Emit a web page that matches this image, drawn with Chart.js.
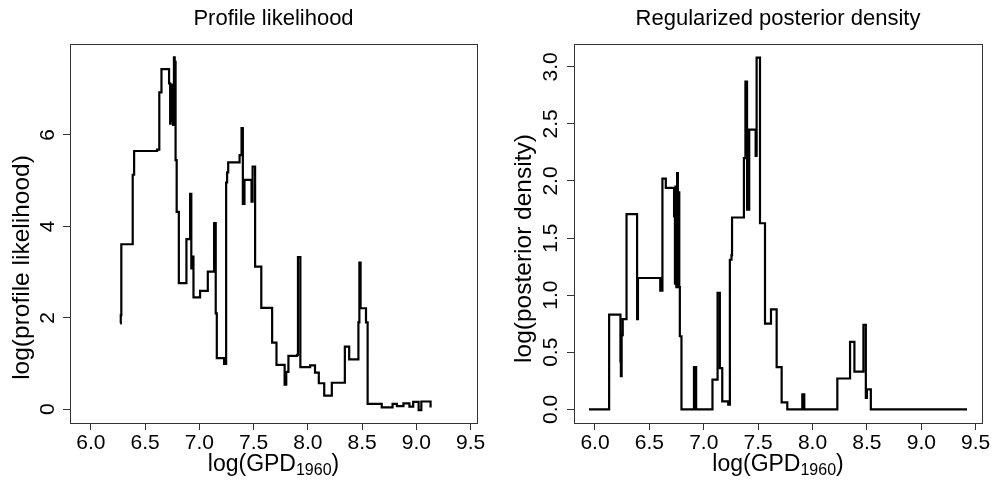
<!DOCTYPE html>
<html>
<head>
<meta charset="utf-8">
<script src="https://cdn.jsdelivr.net/npm/chart.js@4.4.1/dist/chart.umd.min.js"></script>
<style>
  html, body { margin: 0; padding: 0; background: #fff; }
  #wrap { position: relative; width: 993px; height: 482px; }
  canvas { position: absolute; top: 0; }
</style>
</head>
<body>
<div id="wrap">
  <canvas id="profile" width="496" height="482" style="left:0"></canvas>
  <canvas id="posterior" width="497" height="482" style="left:496px"></canvas>
</div>
<script>
// tick labels
const xTicks = [6.0, 6.5, 7.0, 7.5, 8.0, 8.5, 9.0, 9.5];
const profileTicks = [0, 2, 4, 6];
const posteriorTicks = [0, 0.5, 1.0, 1.5, 2.0, 2.5, 3.0];

// profile likelihood, step changes (log GPD, value)
const profileX = [6.27, 6.275, 6.28, 6.385, 6.398, 6.61, 6.63, 6.65, 6.72, 6.73, 6.735, 6.745, 6.75, 6.757, 6.765, 6.772, 6.776, 6.78, 6.79, 6.81,
  6.88, 6.914, 6.925, 6.935, 6.945, 7.006, 7.077, 7.135, 7.15, 7.16, 7.227, 7.246, 7.255, 7.265, 7.37, 7.388, 7.40, 7.415, 7.48, 7.49,
  7.513, 7.57, 7.67, 7.71, 7.785, 7.80, 7.82, 7.90, 7.908, 7.93, 8.02, 8.065, 8.10, 8.15, 8.22, 8.34, 8.38, 8.465, 8.474, 8.485,
  8.535, 8.55, 8.68, 8.78, 8.82, 8.88, 8.935, 8.97, 9.02, 9.045, 9.13];
const profileY = [1.88, 2.06, 3.61, 5.13, 5.65, 5.68, 6.93, 7.44, 7.13, 6.25, 7.10, 6.30, 7.05, 6.22, 7.70, 6.30, 7.60, 5.45, 4.32, 2.76,
  3.72, 4.71, 3.08, 3.34, 2.45, 2.59, 3.01, 4.07, 2.10, 1.12, 0.99, 4.96, 5.18, 5.40, 5.56, 6.15, 4.49, 5.02, 4.54, 5.31,
  3.12, 2.22, 1.46, 0.97, 0.54, 0.82, 1.17, 1.19, 3.33, 0.92, 0.96, 0.80, 0.57, 0.30, 0.58, 1.37, 1.09, 1.90, 3.21, 2.21,
  1.90, 0.12, 0.04, 0.12, 0.07, 0.13, 0.06, 0.16, -0.02, 0.17, 0.04];

// regularized posterior density
const posteriorX = [5.945, 6.13, 6.234, 6.238, 6.245, 6.255, 6.29, 6.387, 6.395, 6.60, 6.62, 6.651, 6.727, 6.735, 6.74, 6.748, 6.755, 6.762,
  6.768, 6.775, 6.78, 6.795, 6.91, 6.93, 7.08, 7.127, 7.148, 7.17, 7.225, 7.24, 7.255, 7.26, 7.369, 7.383, 7.398, 7.418, 7.477, 7.486,
  7.517, 7.563, 7.618, 7.67, 7.716, 7.768, 7.906, 7.924, 8.228, 8.345, 8.385, 8.468, 8.49, 8.50, 8.536, 9.42];
const posteriorY = [0, 0.83, 0.42, 0.29, 0.65, 0.79, 1.71, 0.79, 1.15, 1.04, 2.02, 1.94, 1.69, 1.10, 1.95, 1.07, 2.07, 1.08,
  1.90, 1.07, 0.64, 0, 0.37, 0, 0.26, 1.02, 0.36, 0.07, 0.04, 1.31, 1.35, 1.68, 2.20, 2.87, 1.75, 2.45, 2.22, 3.08,
  1.63, 0.75, 0.876, 0.37, 0.06, 0, 0.13, 0, 0.27, 0.59, 0.33, 0.74, 0.10, 0.175, 0, 0];

const FONT = "'Liberation Sans', Arial, sans-serif";
Chart.defaults.font.family = FONT;
Chart.defaults.font.size = 21;
Chart.defaults.color = "#000";

// box, main title and axis titles drawn the way R does them
const rLabels = {
  id: "rLabels",
  afterDraw(chart, args, opts) {
    const ctx = chart.ctx;
    const a = chart.chartArea;
    const cx = (a.left + a.right) / 2;
    ctx.save();
    ctx.strokeStyle = "#333";
    ctx.lineWidth = 1;
    ctx.strokeRect(Math.round(a.left) + 0.5, Math.round(a.top) + 0.5, Math.round(a.right - a.left), Math.round(a.bottom - a.top));

    ctx.fillStyle = "#000";
    ctx.textBaseline = "alphabetic";
    ctx.textAlign = "center";
    ctx.font = "22px " + FONT;
    ctx.fillText(opts.title, cx, 25);

    // log(GPD_1960)
    const main = "log(GPD", sub = "1960", close = ")";
    ctx.font = "23px " + FONT;
    const w1 = ctx.measureText(main).width;
    const w3 = ctx.measureText(close).width;
    ctx.font = "16px " + FONT;
    const w2 = ctx.measureText(sub).width;
    let x = cx - (w1 + w2 + w3) / 2;
    ctx.textAlign = "left";
    ctx.font = "23px " + FONT;
    ctx.fillText(main, x, 471);
    ctx.font = "16px " + FONT;
    ctx.fillText(sub, x + w1, 475);
    ctx.font = "23px " + FONT;
    ctx.fillText(close, x + w1 + w2, 471);

    ctx.translate(opts.yLabelX, opts.yLabelY);
    ctx.rotate(-Math.PI / 2);
    ctx.textAlign = "center";
    ctx.font = "24.5px " + FONT;
    ctx.fillText(opts.yLabel, 0, 0);
    ctx.restore();
  }
};

function makeChart(id, xs, ys, yTicks, yMin, yMax, yFmt, yWidth, yPad, rightPad, labels) {
  const ctx = document.getElementById(id).getContext("2d");
  return new Chart(ctx, {
    type: "line",
    data: {
      datasets: [{
        data: xs.map((x, i) => ({ x: x, y: ys[i] })),
        stepped: "before",
        borderColor: "#000",
        borderWidth: 2.2,
        pointRadius: 0,
        fill: false,
      }],
    },
    options: {
      responsive: false,
      animation: false,
      layout: { padding: { left: 0, right: rightPad, top: 44, bottom: 0 } },
      plugins: { legend: { display: false }, tooltip: { enabled: false }, rLabels: labels },
      scales: {
        x: {
          type: "linear",
          min: 5.807,
          max: 9.558,
          afterBuildTicks: (scale) => { scale.ticks = xTicks.map((v) => ({ value: v })); },
          afterFit: (scale) => { scale.height = 59; },
          border: { display: false },
          grid: { drawOnChartArea: false, tickLength: 7, color: "#333" },
          ticks: { padding: 1, maxRotation: 0, callback: (v) => v.toFixed(1) },
        },
        y: {
          type: "linear",
          min: yMin,
          max: yMax,
          afterBuildTicks: (scale) => { scale.ticks = yTicks.map((v) => ({ value: v })); },
          afterFit: (scale) => { scale.width = yWidth; },
          border: { display: false },
          grid: { drawOnChartArea: false, tickLength: 7, color: "#333" },
          ticks: { padding: yPad, minRotation: 90, maxRotation: 90, crossAlign: "center", callback: yFmt },
        },
      },
    },
    plugins: [rLabels],
  });
}

makeChart("profile", profileX, profileY, profileTicks, -0.30, 7.99, (v) => String(v), 70, 9, 19,
  { title: "Profile likelihood", yLabel: "log(profile likelihood)", yLabelX: 29, yLabelY: 267.5 });

makeChart("posterior", posteriorX, posteriorY, posteriorTicks, -0.12, 3.20, (v) => v.toFixed(1), 78, 1.5, 11,
  { title: "Regularized posterior density", yLabel: "log(posterior density)", yLabelX: 35, yLabelY: 248.5 });
</script>
</body>
</html>
